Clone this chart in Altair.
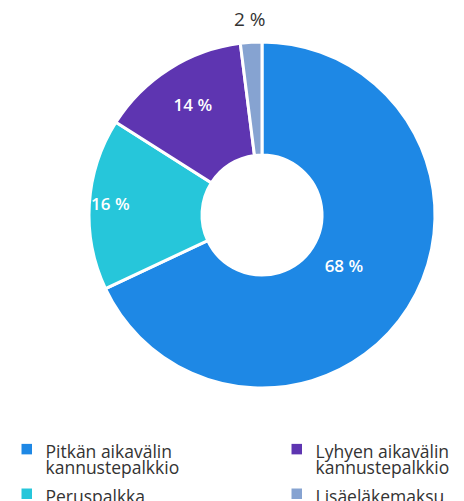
import altair as alt
import pandas as pd

categories = ["Pitkän aikavälin kannustepalkkio", "Peruspalkka",
              "Lyhyen aikavälin kannustepalkkio", "Lisäeläkemaksu"]
values = [68, 16, 14, 2]
legend_order = ["Pitkän aikavälin kannustepalkkio", "Lyhyen aikavälin kannustepalkkio",
                "Peruspalkka", "Lisäeläkemaksu"]
palette = ["#1E88E5", "#5E35B1", "#26C6DA", "#86A3D1"]

df = pd.DataFrame({"category": categories, "value": values,
                   "order": list(range(len(categories)))})

theta_scale = alt.Scale(domain=[0, 100])
FONT = "Open Sans"

arcs = alt.Chart(df).mark_arc(outerRadius=173, innerRadius=60, stroke="white", strokeWidth=3).encode(
    theta=alt.Theta("value:Q", stack=True, scale=theta_scale),
    order=alt.Order("order:Q"),
    color=alt.Color(
        "category:N",
        scale=alt.Scale(domain=legend_order, range=palette),
        legend=alt.Legend(
            title=None, orient="none", legendX=-42, legendY=440, columns=2,
            direction="horizontal",
            symbolType="square", symbolSize=110, symbolStrokeWidth=0,
            labelFont=FONT, labelFontSize=17.5, labelColor="#333333", labelLimit=400,
            labelOffset=10, columnPadding=108, rowPadding=7, padding=0,
            labelBaseline="top",
            labelExpr="split(replace(datum.label, 'välin ', 'välin|'), '|')",
        ),
    ),
)

label_base = alt.Chart(df).transform_window(
    cum="sum(value)", sort=[alt.SortField("order")],
    frame=[None, 0],
).transform_calculate(
    mid="datum.cum - datum.value / 2",
    label="datum.value + ' %'",
    r="datum.value < 5 ? 195 : datum.value > 50 ? 97 : datum.value > 15 ? 152 : 129",
).encode(
    theta=alt.Theta("mid:Q", stack=False, scale=theta_scale),
    radius=alt.Radius("r:Q", scale=None),
    text="label:N",
)

inner_labels = label_base.transform_filter("datum.value >= 5").mark_text(
    font=FONT, fontSize=17, fontWeight=600, color="white"
)
outer_labels = label_base.transform_filter("datum.value < 5").mark_text(
    font=FONT, fontSize=19, fontWeight="normal", color="#333333"
)

chart = alt.layer(arcs, inner_labels, outer_labels).properties(
    width=404, height=430,
    autosize=alt.AutoSizeParams(type="none"),
    padding={"left": 60, "top": 0, "right": 0, "bottom": 71},
).configure(
    style={"guide-label": {"lineHeight": 16, "dy": -5}},
).configure_view(stroke=None)

chart.save("out.html", embed_options={"renderer": "svg", "actions": False})
